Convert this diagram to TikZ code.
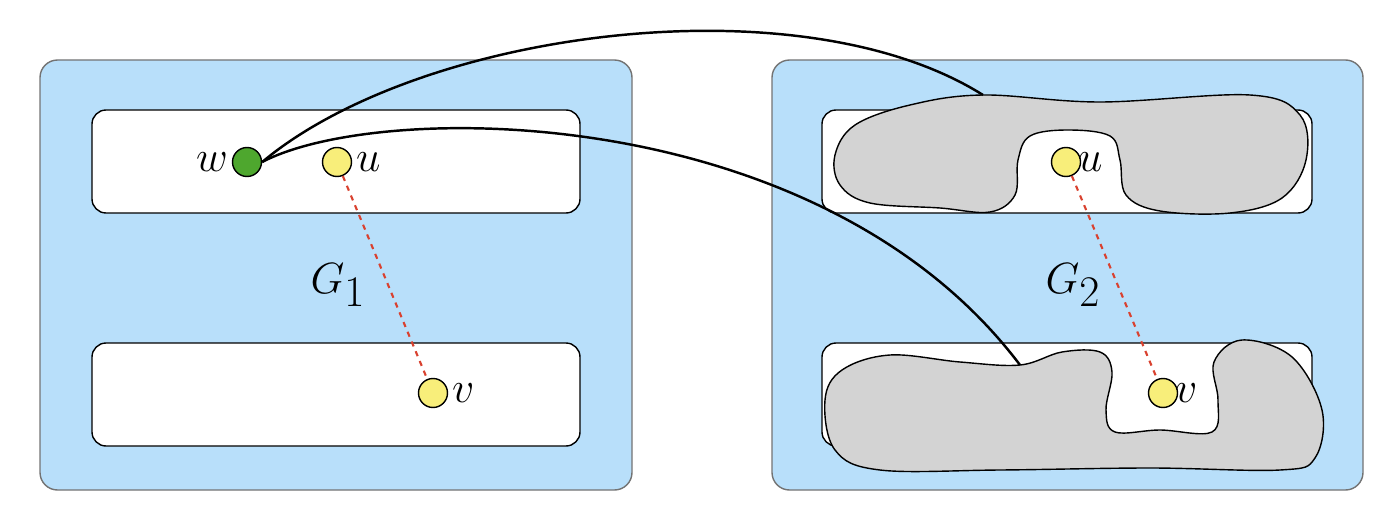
\documentclass[tikz,border=0pt]{standalone}
\usepackage{xcolor}
\usetikzlibrary{positioning}
\definecolor{panelblue}{HTML}{B8DFFA}
\definecolor{blobgray}{HTML}{D3D3D3}
\definecolor{vyellow}{HTML}{F8EE7A}
\definecolor{vgreen}{HTML}{4EA72E}
\definecolor{edgered}{HTML}{D9412F}
\begin{document}
\begin{tikzpicture}[x=0.02cm,y=-0.02cm,
    panel/.style={draw=gray!90!black, fill=panelblue, rounded corners=10pt, line width=0.8pt},
    slot/.style={draw=black, fill=white, rounded corners=8pt, line width=0.8pt},
    blob/.style={draw=black, fill=blobgray, line width=0.8pt},
    vert/.style={circle, draw=black, fill=vyellow, minimum size=0.58cm, inner sep=0pt, line width=0.8pt},
    lbl/.style={font=\fontsize{36}{40}\selectfont, inner sep=2pt},
    link/.style={line width=1.4pt},
    tie/.style={edgered, dashed, line width=1.2pt}]
    \useasboundingbox (0,0) rectangle (1386,510);
    % panels
    \draw[panel] (40,60) rectangle (632,490);
    \draw[panel] (772,60) rectangle (1363,490);
    \draw[slot] (92,110) rectangle (580,213);
    \draw[slot] (92,343) rectangle (580,446);
    \draw[slot] (822,110) rectangle (1312,213);
    \draw[slot] (822,343) rectangle (1312,446);
    % shaded regions
    \draw[blob] plot[smooth cycle, tension=0.6] coordinates {(983,95) (1100,102) (1250,95) (1300,115) (1306,160) (1282,198) (1230,213) (1160,211) (1126,195) (1120,160) (1110,136) (1068,130) (1030,136) (1018,160) (1015,195) (990,212) (940,208) (870,203) (840,185) (835,155) (855,125) (910,105)};
    \draw[blob] plot[smooth cycle, tension=0.6] coordinates {(1020,365) (1062,352) (1100,352) (1112,372) (1106,410) (1115,432) (1160,430) (1212,432) (1218,400) (1214,362) (1242,340) (1292,357) (1322,410) (1315,458) (1280,470) (1150,468) (1000,470) (880,470) (835,450) (825,400) (842,370) (890,355) (960,362)};
    % vertices
    \node[vert] (u1) at (337,162) {};
    \node[vert] (v1) at (433,393) {};
    \node[vert, fill=vgreen] (w) at (247,162) {};
    \node[vert] (u2) at (1066,162) {};
    \node[vert] (v2) at (1163,393) {};
    \draw[tie] (u1) -- (v1);
    \draw[tie] (u2) -- (v2);
    \node[lbl, left=0pt of w] {$w$};
    \node[lbl, right=0pt of u1] {$u$};
    \node[lbl, right=0pt of v1] {$v$};
    \node[lbl, right=-4pt of u2] {$u$};
    \node[lbl, right=-4pt of v2] {$v$};
    \node[lbl] (g1) at (338,285) {$G_1$};
    \node[lbl] (g2) at (1073,285) {$G_2$};
    % connectors
    \coordinate (top2) at (983,95);
    \coordinate (bot2) at (1020,365);
    \draw[link] (w.east) .. controls (420,30) and (800,-20) .. (top2);
    \draw[link] (w.east) .. controls (380,100) and (820,100) .. (bot2);
\end{tikzpicture}
\end{document}
